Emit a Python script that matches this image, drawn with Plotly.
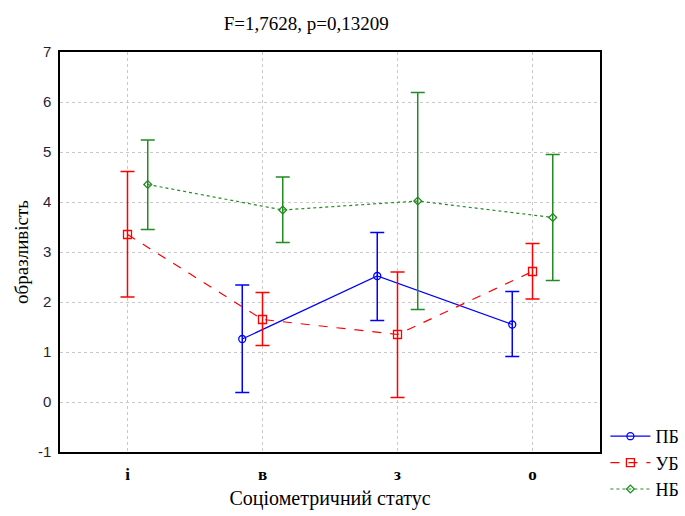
import plotly.graph_objects as go

# Sociometric status groups (x axis)
categories = ["і", "в", "з", "о"]

# Means and confidence limits per group; None where the group has no data
pb_mean = [None, 1.26, 2.52, 1.55]
pb_upper = [None, 2.34, 3.39, 2.21]
pb_lower = [None, 0.19, 1.63, 0.91]

ub_mean = [3.35, 1.65, 1.35, 2.61]
ub_upper = [4.61, 2.19, 2.60, 3.17]
ub_lower = [2.10, 1.13, 0.09, 2.06]

nb_mean = [4.35, 3.84, 4.02, 3.69]
nb_upper = [5.24, 4.50, 6.19, 4.95]
nb_lower = [3.45, 3.19, 1.85, 2.43]

y_ticks = [-1, 0, 1, 2, 3, 4, 5, 6, 7]

SERIF = "Liberation Serif, Times New Roman, serif"
SANS = "Liberation Sans, Arial, sans-serif"

series = [
    ("ПБ", pb_mean, pb_upper, pb_lower, "#0000ff", "solid", "circle-open", 7, -0.15),
    ("УБ", ub_mean, ub_upper, ub_lower, "#ff0000", "dash", "square-open", 8, 0.0),
    ("НБ", nb_mean, nb_upper, nb_lower, "#228b22", "dot", "diamond-open", 6, 0.15),
]

fig = go.Figure()
for name, mean, up, lo, color, dash, symbol, msize, shift in series:
    xs, ys, ep, em = [], [], [], []
    for i, m in enumerate(mean):
        if m is None:
            continue
        xs.append(i + shift)
        ys.append(m)
        ep.append(up[i] - m)
        em.append(m - lo[i])
    fig.add_trace(go.Scatter(
        x=xs, y=ys, name=name, mode="lines+markers",
        line=dict(color=color, width=1.2, dash=dash),
        marker=dict(symbol=symbol, size=msize, color=color,
                    line=dict(color=color, width=1.3)),
        error_y=dict(type="data", symmetric=False, array=ep, arrayminus=em,
                     color=color, thickness=1.5, width=7),
    ))

fig.update_layout(
    width=685, height=516,
    margin=dict(l=60, r=85, t=52, b=64, autoexpand=False),
    paper_bgcolor="white", plot_bgcolor="white",
    title=dict(text="F=1,7628, p=0,13209", x=0.447, xanchor="center",
               y=0.955, yanchor="middle",
               font=dict(family=SERIF, size=19, color="black")),
    legend=dict(x=1.01, xanchor="left", y=0.085, yanchor="top",
                font=dict(family=SERIF, size=18, color="black"),
                bgcolor="rgba(0,0,0,0)", tracegroupgap=0, itemwidth=40),
    showlegend=True,
)

fig.update_xaxes(
    range=[-0.5, 3.5],
    tickmode="array", tickvals=list(range(len(categories))), ticktext=categories,
    tickfont=dict(family=SERIF, size=17, color="black", weight="bold"),
    ticklabelstandoff=6,
    showgrid=True, gridcolor="#c8c8c8", griddash="dot", gridwidth=1,
    showline=True, linecolor="black", linewidth=1.5, mirror=True,
    ticks="", zeroline=False,
    title=dict(text="Соціометричний статус",
               font=dict(family=SERIF, size=20, color="black"), standoff=8),
)
fig.update_yaxes(
    range=[-1, 7],
    tickmode="array", tickvals=y_ticks, ticktext=[str(v) for v in y_ticks],
    tickfont=dict(family=SANS, size=15, color="#1f1f3a"),
    ticklabelstandoff=4,
    showgrid=True, gridcolor="#c8c8c8", griddash="dot", gridwidth=1,
    showline=True, linecolor="black", linewidth=1.5, mirror=True,
    ticks="", zeroline=False,
    title=dict(text="образливість",
               font=dict(family=SERIF, size=19, color="black"), standoff=4),
)

fig.write_html("out.html")
